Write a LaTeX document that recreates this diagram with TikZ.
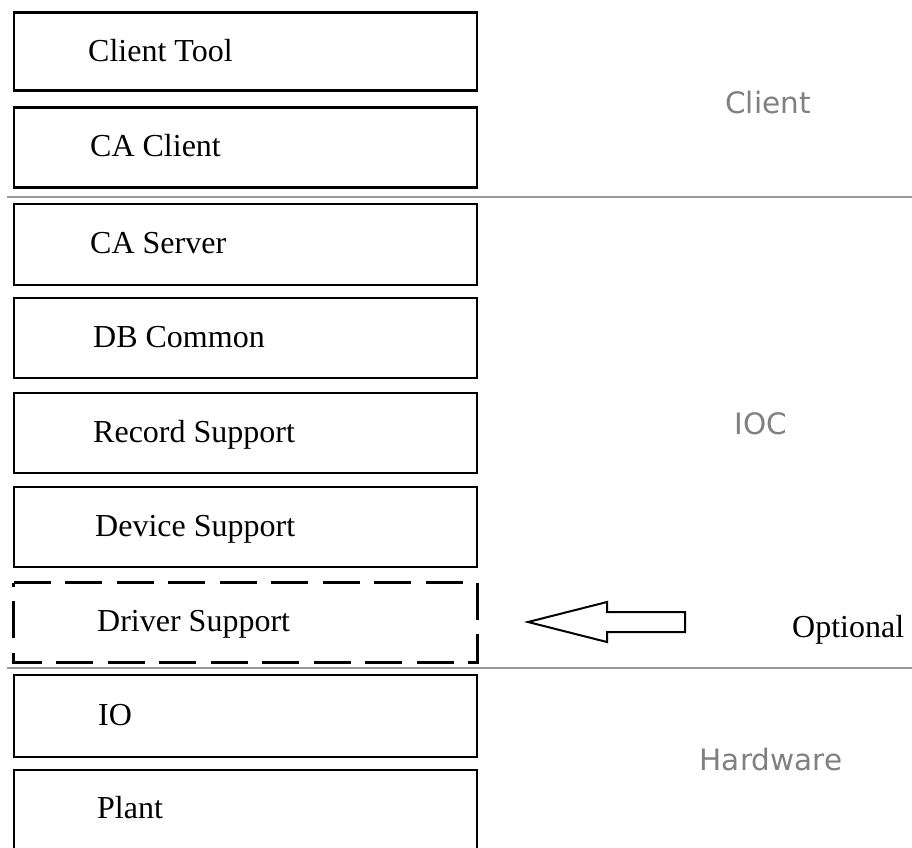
\documentclass[tikz,border=0pt]{standalone}
\usepackage{fontspec}
\setmainfont{Liberation Serif}
\newfontfamily\zonefont{DejaVu Sans}
\definecolor{zonegray}{HTML}{808080}
\definecolor{rulegray}{HTML}{999999}
\begin{document}
\begin{tikzpicture}[x=1pt,y=-1pt,
  layer/.style={draw=black, line width=2.7pt, minimum width=463pt, inner sep=0pt},
  optlayer/.style={minimum width=463pt, inner sep=0pt},
  lbl/.style={anchor=base west, inner sep=0pt, font=\fontsize{32}{38}\selectfont},
  zone/.style={anchor=base, inner sep=0pt, text=zonegray, font=\zonefont\fontsize{29.5}{35}\selectfont},
  sep/.style={draw=rulegray, line width=2pt},
  optarrow/.style={draw=black, line width=2pt, line join=miter}]
\useasboundingbox (0,0) rectangle (912,847);
\clip (0,0) rectangle (912,847);

% layer boxes
\node[layer, minimum height=78pt] (tool)   at (245.5,51.7)  {};
\node[layer, minimum height=80pt] (cacl)   at (245.5,147.3) {};
\node[layer, minimum height=81pt] (casv)   at (245.5,244.5) {};
\node[layer, minimum height=80pt] (dbc)    at (245.5,338)   {};
\node[layer, minimum height=80pt] (rec)    at (245.5,433)   {};
\node[layer, minimum height=80pt] (dev)    at (245.5,527)   {};
\node[optlayer, minimum height=79pt] (drv) at (245.5,622.5) {};
\node[layer, minimum height=82pt] (io)     at (245.5,716)   {};
\node[layer, minimum height=82pt] (plant)  at (245.5,811)   {};

% optional layer drawn as a dashed outline, clockwise from top left
\draw[line width=2.7pt, dash pattern=on 37pt off 14.5pt, line join=miter]
  (drv.north west) -- (drv.north east) -- (drv.south east) -- (drv.south west) -- cycle;

% layer names
\node[lbl] (toolt)  at (88,61.7)  {Client Tool};
\node[lbl] (caclt)  at (90,156.7) {CA Client};
\node[lbl] (casvt)  at (90,253.5) {CA Server};
\node[lbl] (dbct)   at (93,347)   {DB Common};
\node[lbl] (rect)   at (93,442)   {Record Support};
\node[lbl] (devt)   at (95,536)   {Device Support};
\node[lbl] (drvt)   at (97,631)   {Driver Support};
\node[lbl] (iot)    at (98,725)   {IO};
\node[lbl] (plantt) at (97,818)   {Plant};

% zone separators
\coordinate (s1a) at (7,196.5);  \coordinate (s1b) at (912,196.5);
\coordinate (s2a) at (7,667.5);  \coordinate (s2b) at (912,667.5);
\draw[sep] (s1a) -- (s1b);
\draw[sep] (s2a) -- (s2b);

% zone names
\node[zone] (zclient) at (768,113) {Client};
\node[zone] (zioc)    at (761,434) {IOC};
\node[zone] (zhw)     at (771,770) {Hardware};

% hollow arrow marking the optional layer
\draw[optarrow] (528,622) -- (607,602) -- (607,612) -- (685,612)
  -- (685,632) -- (607,632) -- (607,642) -- cycle;
\node[lbl] (opt) at (792,637) {Optional};
\end{tikzpicture}
\end{document}
